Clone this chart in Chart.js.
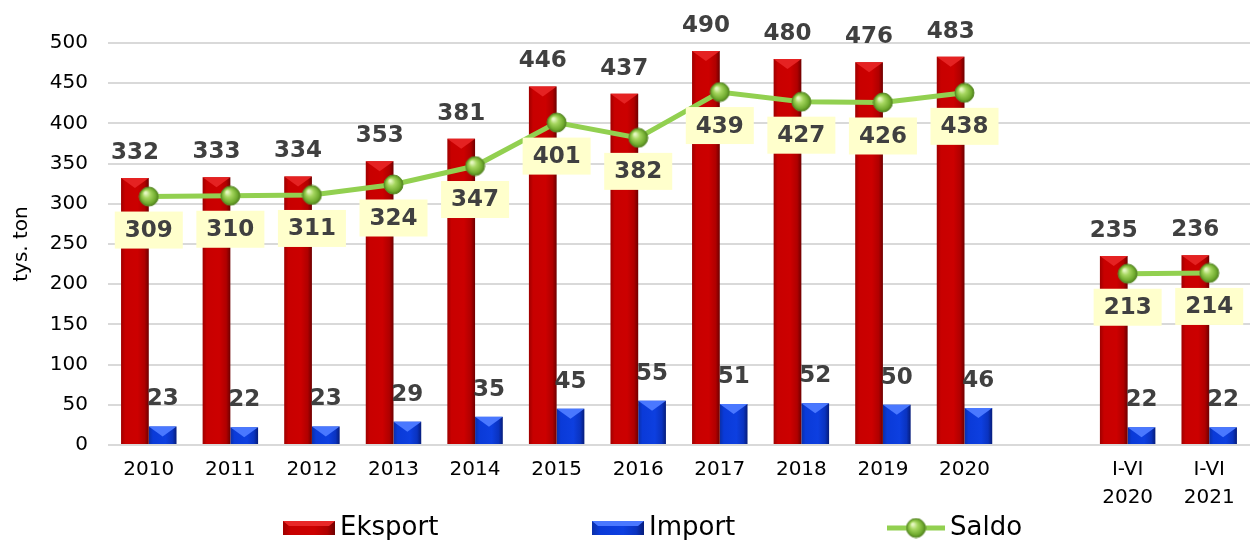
<!DOCTYPE html>
<html>
<head>
<meta charset="utf-8">
<script src="https://cdn.jsdelivr.net/npm/chart.js@4.4.1/dist/chart.umd.min.js"></script>
<style>
  html, body { margin: 0; padding: 0; overflow: hidden; background: #fff; }
  #wrap { width: 1265px; height: 540px; }
</style>
</head>
<body>
<div id="wrap"><canvas id="c" width="1265" height="540"></canvas></div>
<script>
// ---- data ----
const categories = ['2010','2011','2012','2013','2014','2015','2016','2017','2018','2019','2020','',['I-VI','2020'],['I-VI','2021']];
const eksport = [332,333,334,353,381,446,437,490,480,476,483,null,235,236];
const importV = [23,22,23,29,35,45,55,51,52,50,46,null,22,22];
const saldo   = [309,310,311,324,347,401,382,439,427,426,438,null,213,214];
const seriesNames = ['Eksport','Import','Saldo'];
const yTicks = { min: 0, max: 500, step: 50 };

const FONT = "'DejaVu Sans', Verdana, sans-serif";
const LABEL_COLOR = '#404040';

// sphere marker image
function makeSphere(r) {
  const c = document.createElement('canvas');
  const s = Math.ceil(r * 2 + 2);
  c.width = s; c.height = s;
  const g = c.getContext('2d');
  const cx = s / 2, cy = s / 2;
  const grad = g.createRadialGradient(cx - r * 0.35, cy - r * 0.4, r * 0.1, cx, cy, r);
  grad.addColorStop(0, '#E6F7C2');
  grad.addColorStop(0.35, '#A5D65E');
  grad.addColorStop(0.8, '#6FAA2E');
  grad.addColorStop(1, '#4E7F1C');
  g.beginPath(); g.arc(cx, cy, r, 0, Math.PI * 2);
  g.fillStyle = grad; g.fill();
  g.lineWidth = 1; g.strokeStyle = '#5C8B2A'; g.stroke();
  return c;
}
const sphere = makeSphere(9.5);

function barGradient(ctx, left, right, kind) {
  const gr = ctx.createLinearGradient(left, 0, right, 0);
  if (kind === 'red') {
    gr.addColorStop(0, '#9E0000');
    gr.addColorStop(0.15, '#C80000');
    gr.addColorStop(0.6, '#CC0000');
    gr.addColorStop(0.85, '#B00000');
    gr.addColorStop(1, '#6E0000');
  } else {
    gr.addColorStop(0, '#0A2FA8');
    gr.addColorStop(0.15, '#0A3AD8');
    gr.addColorStop(0.6, '#0D3FE0');
    gr.addColorStop(0.85, '#0A33C0');
    gr.addColorStop(1, '#061C7A');
  }
  return gr;
}

function scriptGradient(kind, side) {
  const solid = kind === 'red' ? '#CC0000' : '#0D3FE0';
  return function(context) {
    const chart = context.chart;
    const xs = chart.scales && chart.scales.x;
    if (!xs || context.dataIndex === undefined || !chart.chartArea) return solid;
    const center = xs.getPixelForValue(context.dataIndex);
    const slot = xs.width / categories.length;
    const w = slot * 0.68 / 2;
    const left = side < 0 ? center - w : center;
    if (!isFinite(left) || !isFinite(w) || w <= 0) return solid;
    return barGradient(chart.ctx, left, left + w, kind);
  };
}

const labelsPlugin = {
  id: 'labelsPlugin',
  afterDatasetDraw(chart, args) {
    const ds = chart.data.datasets[args.index];
    if (ds.type === 'line') return;
    const ctx = chart.ctx;
    const meta = args.meta;
    ctx.save();
    meta.data.forEach((el, i) => {
      if (ds.data[i] == null) return;
      const p = el.getProps(['x','y','base','width'], true);
      const l = p.x - p.width / 2, r = p.x + p.width / 2;
      const h = Math.min(10, p.width * 0.36);
      ctx.beginPath();
      ctx.moveTo(l, p.y); ctx.lineTo(r, p.y); ctx.lineTo(p.x, p.y + h); ctx.closePath();
      ctx.fillStyle = ds.bevel;
      ctx.fill();
    });
    ctx.restore();
  },
  afterDatasetsDraw(chart) {
    const ctx = chart.ctx;
    ctx.save();
    ctx.font = 'bold 23px ' + FONT;
    ctx.textAlign = 'center';
    ctx.textBaseline = 'middle';
    chart.data.datasets.forEach((ds, di) => {
      const meta = chart.getDatasetMeta(di);
      meta.data.forEach((el, i) => {
        const v = ds.data[i];
        if (v == null) return;
        const txt = String(v);
        if (ds.type === 'line') {
          const tw = ctx.measureText(txt).width;
          const bw = tw + 20, bh = 37;
          const top = el.y + 15;
          ctx.fillStyle = '#FFFFCC';
          ctx.fillRect(el.x - bw / 2, top, bw, bh);
          ctx.fillStyle = LABEL_COLOR;
          ctx.fillText(txt, el.x, top + bh / 2 + 1);
        } else {
          const off = di === 0 ? 25 : 27;
          ctx.fillStyle = LABEL_COLOR;
          ctx.fillText(txt, el.x, el.y - off);
        }
      });
    });
    ctx.restore();
  }
};

const legendPlugin = {
  id: 'customLegend',
  afterDraw(chart) {
    const ctx = chart.ctx;
    const xs = [283, 592, 887];
    const cy = 528;
    ctx.save();
    ctx.font = '26px ' + FONT;
    ctx.textBaseline = 'middle';
    ctx.textAlign = 'left';
    // Eksport
    ctx.fillStyle = barGradient(ctx, xs[0], xs[0] + 52, 'red');
    ctx.fillRect(xs[0], cy - 7, 52, 14);
    ctx.fillStyle = '#E82828';
    ctx.beginPath(); ctx.moveTo(xs[0], cy - 7); ctx.lineTo(xs[0] + 52, cy - 7); ctx.lineTo(xs[0] + 46, cy - 2); ctx.lineTo(xs[0] + 6, cy - 2); ctx.closePath(); ctx.fill();
    ctx.fillStyle = '#000';
    ctx.fillText(seriesNames[0], xs[0] + 57, cy);
    // Import
    ctx.fillStyle = barGradient(ctx, xs[1], xs[1] + 52, 'blue');
    ctx.fillRect(xs[1], cy - 7, 52, 14);
    ctx.fillStyle = '#4A78FF';
    ctx.beginPath(); ctx.moveTo(xs[1], cy - 7); ctx.lineTo(xs[1] + 52, cy - 7); ctx.lineTo(xs[1] + 46, cy - 2); ctx.lineTo(xs[1] + 6, cy - 2); ctx.closePath(); ctx.fill();
    ctx.fillStyle = '#000';
    ctx.fillText(seriesNames[1], xs[1] + 57, cy);
    // Saldo
    ctx.strokeStyle = '#92D050';
    ctx.lineWidth = 5;
    ctx.beginPath(); ctx.moveTo(xs[2], cy); ctx.lineTo(xs[2] + 58, cy); ctx.stroke();
    ctx.drawImage(sphere, xs[2] + 29 - sphere.width / 2, cy - sphere.height / 2);
    ctx.fillStyle = '#000';
    ctx.fillText(seriesNames[2], xs[2] + 63, cy);
    ctx.restore();
  }
};

new Chart(document.getElementById('c'), {
  data: {
    labels: categories,
    datasets: [
      {
        type: 'bar', label: seriesNames[0], data: eksport, order: 2,
        backgroundColor: scriptGradient('red', -1), bevel: '#E52222',
        categoryPercentage: 0.68, barPercentage: 1.0, borderWidth: 0
      },
      {
        type: 'bar', label: seriesNames[1], data: importV, order: 2,
        backgroundColor: scriptGradient('blue', 1), bevel: '#4A78FF',
        categoryPercentage: 0.68, barPercentage: 1.0, borderWidth: 0
      },
      {
        type: 'line', label: seriesNames[2], data: saldo, order: 0,
        borderColor: '#92D050', borderWidth: 5, tension: 0, spanGaps: false,
        pointStyle: sphere, pointRadius: 10, pointHoverRadius: 10,
        fill: false
      }
    ]
  },
  options: {
    responsive: false,
    animation: false,
    devicePixelRatio: 1,
    layout: { padding: { top: 43, right: 0, bottom: 0, left: 0 } },
    plugins: { legend: { display: false }, tooltip: { enabled: false } },
    scales: {
      x: {
        grid: { display: false, drawTicks: false },
        border: { display: false },
        ticks: { color: '#000', font: { family: FONT, size: 20, lineHeight: 1.4 }, padding: 11, maxRotation: 0, autoSkip: false },
        afterFit(scale) { scale.height = 95; }
      },
      y: {
        min: yTicks.min, max: yTicks.max,
        ticks: { stepSize: yTicks.step, color: '#000', font: { family: FONT, size: 20 }, padding: 20 },
        grid: { color: '#D9D9D9', lineWidth: 2, drawTicks: false },
        border: { display: false },
        title: { display: true, text: 'tys. ton', color: '#000', font: { family: FONT, size: 20 }, padding: { top: 10, bottom: 0 } },
        afterFit(scale) { scale.width = 108; }
      }
    }
  },
  plugins: [labelsPlugin, legendPlugin]
});
</script>
</body>
</html>
